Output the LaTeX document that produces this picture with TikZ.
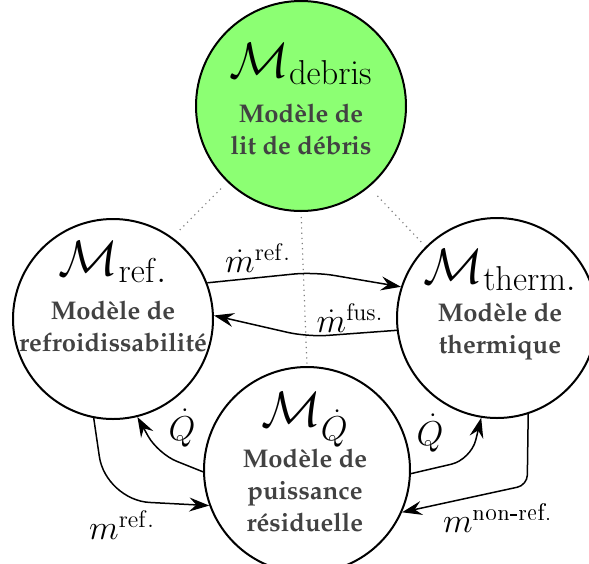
\documentclass[tikz,border=0pt]{standalone}
\usepackage{amsmath}
\usepackage[T1]{fontenc}
\usepackage{xcolor}
\usepackage{tikz}
\usetikzlibrary{arrows.meta,positioning,calc}
\definecolor{debrisgreen}{RGB}{140,255,115}
\definecolor{descgray}{RGB}{66,66,66}
\newcommand{\palbf}{\fontfamily{ppl}\bfseries\selectfont}
\tikzset{
  model/.style={circle, draw, line width=1pt, minimum size=100pt, inner sep=0pt},
  debrismodel/.style={model, fill=debrisgreen, minimum size=105pt},
  mtitle/.style={font=\fontsize{24.5}{28}\selectfont, inner sep=0pt},
  mdesc/.style={align=center, text=descgray, font=\fontsize{12.8}{16}\palbf, inner sep=0pt},
  arrow/.style={-{Stealth[length=10pt,width=7pt,inset=3.5pt]}, line width=0.75pt, rounded corners=10pt},
  flowlabel/.style={font=\fontsize{17}{20}\selectfont, inner sep=0pt},
  link/.style={dotted, gray, line width=0.6pt},
}

\begin{document}
\begin{tikzpicture}[x=0.5pt, y=-0.5pt]
  \useasboundingbox (0,0) rectangle (589,563);

  % Models
  \node[debrismodel] (debris) at (301,106) {};
  \node[model] (ref) at (113,319) {};
  \node[model] (therm) at (497,318) {};
  \node[model, minimum size=103pt] (resid) at (307,470) {};

  % Titles and descriptions
  \node[mtitle] (debristitle) at ($(debris)+(0,-42)$) {$\mathcal{M}_{\mathrm{debris}}$};
  \node[mdesc] (debrisdesc) at ($(debris)+(0,23)$) {Modèle de\\lit de débris};
  \node[mtitle] (reftitle) at ($(ref)+(0,-57)$) {$\mathcal{M}_{\mathrm{ref.}}$};
  \node[mdesc] (refdesc) at ($(ref)+(0,7)$) {Modèle de\\refroidissabilité};
  \node[mtitle] (thermtitle) at ($(therm)+(3,-48)$) {$\mathcal{M}_{\mathrm{therm.}}$};
  \node[mdesc] (thermdesc) at ($(therm)+(3,14)$) {Modèle de\\thermique};
  \node[mtitle] (residtitle) at ($(resid)+(-2,-50)$) {$\mathcal{M}_{\dot{Q}}$};
  \node[mdesc] (residdesc) at ($(resid)+(-2,20)$) {Modèle de\\puissance\\résiduelle};

  % Links to the debris model
  \draw[link, shorten <=4.5pt, shorten >=4pt] (debris.226) -- (ref.54);
  \draw[link, shorten <=6pt, shorten >=3pt] (debris.310) -- (therm.135);
  \draw[link, shorten <=2.5pt, shorten >=1pt] (debris.270) -- (resid.90);

  % Flows
  \draw[arrow] (ref.21) -- ($(ref.21)!0.55!(therm.162)+(0,-13)$) -- (therm.162);
  \draw[arrow] (therm.187) -- ($(therm.187)!0.5!(ref.2)+(2,14)$) -- (ref.2);
  \draw[arrow] (resid.181) -- ($(resid.181)+(-45,-18)$) -- (ref.284);
  \draw[arrow, rounded corners=22pt] (ref.259) -- ($(ref.259)+(12,82)$) -- (resid.200);
  \draw[arrow] (resid.358) -- ($(resid.358)+(60,-14)$) -- (therm.261);
  \draw[arrow, rounded corners=5pt] (therm.288) -- ($(therm.288)+(-1,71)$) -- (resid.336);

  % Flow labels
  \node[flowlabel] (mref) at (258,258) {$\dot{m}^{\mathrm{ref.}}$};
  \node[flowlabel] (mfus) at (350,318) {$\dot{m}^{\mathrm{fus.}}$};
  \node[flowlabel] (qleft) at (182,428) {$\dot{Q}$};
  \node[flowlabel] (qright) at (430,433) {$\dot{Q}$};
  \node[flowlabel] (massref) at (122,525) {$m^{\mathrm{ref.}}$};
  \node[flowlabel] (massnonref) at (498,518) {$m^{\text{non-ref.}}$};

\end{tikzpicture}
\end{document}
